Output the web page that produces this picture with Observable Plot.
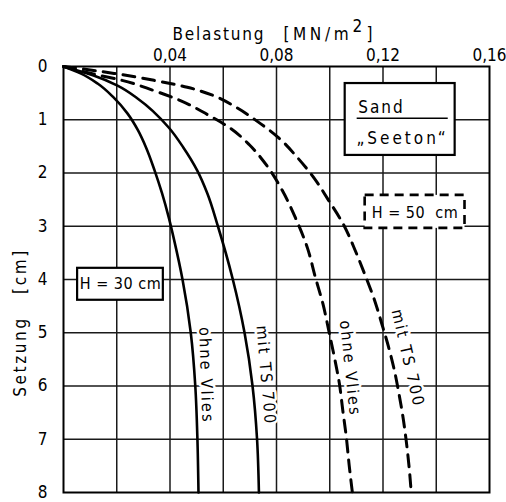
<!DOCTYPE html>
<html>
<head>
<meta charset="utf-8">
<script src="https://cdn.jsdelivr.net/npm/d3@7"></script>
<script src="https://cdn.jsdelivr.net/npm/@observablehq/plot@0.6"></script>
<style>
  html, body { margin: 0; padding: 0; background: #fff; }
  svg { font-family: "DejaVu Sans Condensed", "DejaVu Sans", sans-serif; font-stretch: condensed; }
</style>
</head>
<body>
<div id="chart"></div>
<script>
// H = 30 cm, ohne Vlies (solid): Setzung [cm] / Belastung [MN/m²]
const h30OhneY = [0, 0.13, 0.32, 0.58, 0.88, 1.2, 1.52, 1.95, 2.38, 2.83, 3.27, 4, 5, 6, 7, 8];
const h30OhneX = [0, 0.0064, 0.0128, 0.0188, 0.0240, 0.0280, 0.0310, 0.0342, 0.0370, 0.0395, 0.0416, 0.0447, 0.0478, 0.0495, 0.0503, 0.0507];
// H = 30 cm, mit TS 700 (solid)
const h30MitY = [0, 0.17, 0.36, 0.6, 1.15, 1.52, 1.95, 2.38, 3, 4, 5, 6, 7, 8];
const h30MitX = [0, 0.0113, 0.0203, 0.0278, 0.0396, 0.0450, 0.0502, 0.0540, 0.0580, 0.0636, 0.0680, 0.0710, 0.0727, 0.0734];
// H = 50 cm, ohne Vlies (dashed)
const h50OhneY = [0, 0.15, 0.26, 0.45, 0.64, 0.9, 1.16, 1.47, 1.87, 2.33, 2.84, 3.42, 3.96, 4.45, 5.0, 5.45, 5.95, 6.46, 6.95, 7.49, 8];
const h50OhneX = [0, 0.0120, 0.0220, 0.0338, 0.0439, 0.0540, 0.0627, 0.0698, 0.0765, 0.0822, 0.0871, 0.0917, 0.0946, 0.0974, 0.0998, 0.1017, 0.1036, 0.1049, 0.1062, 0.1073, 0.1085];
// H = 50 cm, mit TS 700 (dashed)
const h50MitY = [0, 0.13, 0.26, 0.39, 0.54, 0.77, 1.03, 1.33, 1.73, 2.1, 2.5, 2.98, 3.46, 3.92, 4.43, 4.84, 5.27, 5.69, 6.12, 6.55, 7.02, 7.52, 8];
const h50MitX = [0, 0.0190, 0.0340, 0.0465, 0.0560, 0.0650, 0.0728, 0.0806, 0.0882, 0.0942, 0.0994, 0.1053, 0.1096, 0.1133, 0.1171, 0.1196, 0.1221, 0.1242, 0.1259, 0.1274, 0.1287, 0.1298, 0.1306];

const xTicks = [0.04, 0.08, 0.12, 0.16];
const xGrid = [0.02, 0.04, 0.06, 0.08, 0.10, 0.12, 0.14];
const yTicks = [0, 1, 2, 3, 4, 5, 6, 7, 8];
const yGrid = [1, 2, 3, 4, 5, 6, 7];

// axis titles
const xTitleParts = ["Belastung", "[MN/m", "2", "]"];
const yTitle = "Setzung\u00A0\u00A0\u00A0[cm]";

// curve labels (data units)
const labelText = ["ohne Vlies", "mit TS 700", "ohne Vlies", "mit TS 700"];
const labelX = [0.0535, 0.0760, 0.1076, 0.1293];
const labelY = [5.80, 5.80, 5.67, 5.48];
const labelRot = [88, 85, 84, 77];

// annotation boxes (data units)
const boxNames = ["h30", "sand", "h50"];
const boxX1 = [0.0053, 0.1058, 0.1133];
const boxX2 = [0.0375, 0.1471, 0.1508];
const boxY1 = [3.79, 0.32, 2.42];
const boxY2 = [4.39, 1.67, 3.04];
const boxDashed = [false, false, true];

const series = [
  {name: "H30 ohne", ys: h30OhneY, xs: h30OhneX, dashed: false},
  {name: "H30 mit", ys: h30MitY, xs: h30MitX, dashed: false},
  {name: "H50 ohne", ys: h50OhneY, xs: h50OhneX, dashed: true},
  {name: "H50 mit", ys: h50MitY, xs: h50MitX, dashed: true}
];
const rows = series.flatMap(s => s.ys.map((y, i) => ({series: s.name, x: s.xs[i], y, dashed: s.dashed})));
const solidRows = rows.filter(d => !d.dashed);
const dashedRows = rows.filter(d => d.dashed);
const labels = labelText.map((t, i) => ({t, x: labelX[i], y: labelY[i], r: labelRot[i]}));
const boxes = boxNames.map((n, i) => ({n, x1: boxX1[i], x2: boxX2[i], y1: boxY1[i], y2: boxY2[i], dashed: boxDashed[i]}));

const fmt = v => d3.format(".2f")(v).replace(".", ",");
const titleText = (t, dx, dy) => Plot.text([t], {frameAnchor: "top-left", textAnchor: "start", dx, dy, fill: "black", fontSize: 17});

const svg = Plot.plot({
  width: 506,
  height: 502,
  marginTop: 66,
  marginLeft: 63,
  marginRight: 17,
  marginBottom: 10,
  style: {fontSize: "17px", background: "white", color: "black"},
  x: {domain: [0, 0.16]},
  y: {domain: [0, 8], reverse: true},
  marks: [
    Plot.gridX(xGrid, {stroke: "#1a1a1a", strokeOpacity: 1, strokeWidth: 1.5}),
    Plot.gridY(yGrid, {stroke: "#1a1a1a", strokeOpacity: 1, strokeWidth: 1.5}),
    Plot.line(solidRows, {x: "x", y: "y", z: "series", curve: "monotone-y", stroke: "black", strokeWidth: 2.6}),
    Plot.line(dashedRows, {x: "x", y: "y", z: "series", curve: "monotone-y", stroke: "black", strokeWidth: 3, strokeDasharray: "12,8"}),
    Plot.rect(boxes.filter(b => !b.dashed), {x1: "x1", x2: "x2", y1: "y1", y2: "y2", fill: "white", stroke: "black", strokeWidth: 2.2}),
    Plot.rect(boxes.filter(b => b.dashed), {x1: "x1", x2: "x2", y1: "y1", y2: "y2", fill: "white", stroke: "black", strokeWidth: 2.6, strokeDasharray: "9,6"}),
    Plot.ruleY([0.97], {x1: 0.1103, x2: 0.1445, stroke: "black", strokeWidth: 1.5}),
    Plot.text(["H = 30 cm"], {x: [0.0214], y: [4.09], fill: "black", fontSize: 16}),
    Plot.text(["H = 50  cm"], {x: [0.1320], y: [2.74], fill: "black", fontSize: 16}),
    Plot.text(["Sand"], {x: [0.1107], y: [0.77], textAnchor: "start", fill: "black", fontSize: 17}),
    Plot.text(["\u201ESeeton\u201C"], {x: [0.1100], y: [1.35], textAnchor: "start", fill: "black", fontSize: 17}),
    Plot.text(labels, {x: "x", y: "y", text: "t", rotate: "r", fill: "black", stroke: "white", strokeWidth: 5, fontSize: 16}),
    Plot.frame({stroke: "black", strokeWidth: 2}),
    Plot.axisX(xTicks, {anchor: "top", tickSize: 0, tickPadding: 6, tickFormat: fmt, label: null, fontSize: 17}),
    Plot.axisY(yTicks, {anchor: "left", tickSize: 0, tickPadding: 16, tickFormat: d3.format("d"), label: null, fontSize: 17}),
    // axis titles
    titleText(xTitleParts[0], 109, -39),
    titleText(xTitleParts[1], 220, -39),
    titleText(xTitleParts[2], 289, -47),
    titleText(xTitleParts[3], 303, -39),
    Plot.text([yTitle], {frameAnchor: "left", textAnchor: "middle", dx: -43, dy: 43, rotate: -90, fill: "black", fontSize: 17})
  ]
});

const s = d3.select(svg);
// letter spacing to mimic the drafting lettering
const spacing = new Map([
  ["ohne Vlies", "2.2px"], ["mit TS 700", "2.2px"],
  ["Sand", "2px"], ["\u201ESeeton\u201C", "3px"],
  ["H = 30 cm", "0.5px"], ["H = 50  cm", "0.5px"],
  [xTitleParts[0], "1.8px"], [xTitleParts[1], "3.6px"],
  [yTitle, "2.6px"]
]);
s.selectAll("text").each(function() {
  const sp = spacing.get(this.textContent);
  if (sp) d3.select(this).style("letter-spacing", sp);
});

document.getElementById("chart").appendChild(svg);
</script>
</body>
</html>
